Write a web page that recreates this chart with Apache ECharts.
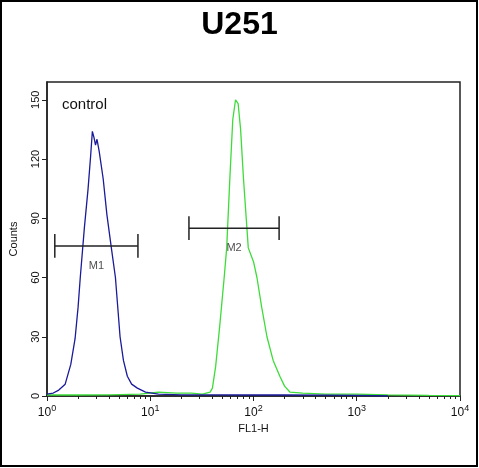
<!DOCTYPE html>
<html><head><meta charset="utf-8">
<script src="https://cdn.jsdelivr.net/npm/echarts@6/dist/echarts.min.js"></script>
<style>html,body{margin:0;padding:0;background:#fff}#c{width:479px;height:468px}</style>
</head><body><div id="c"></div>
<script>
// control histogram (blue)
let controlX = [1.0,1.15,1.3,1.5,1.7,1.87,2.0,2.1,2.3,2.5,2.65,2.75,2.85,2.95,3.05,3.2,3.5,3.8,4.2,4.6,5.1,5.5,6.0,6.6,7.5,9,12,20,40,80,200,500,1000,2000];
let controlY = [1,1.5,3,6,16,29,45,60,85,105,122,134,131,127,130,124,110,92,75,60,30,18,10,6,4,2,1,0.6,0.6,0.5,0.6,0.4,0.3,0];
// sample histogram (green)
let sampleX = [1,2,4,8,12,18,25,32,38,40,43,47,52,55,59,63,67,71,75,80,89,100,108,120,135,155,180,200,225,300,500,1000,2000,5000,10000];
let sampleY = [0.5,0.5,0.6,1,2,1.5,1.5,1,2,4,15,35,60,75,110,140,150,148,135,110,75,68,60,45,30,18,10,5,2,1.5,1,1,0.6,0.3,0.2];
let markers = [{name:'M1',x1:1.19,x2:7.6,y:76},{name:'M2',x1:23.7,x2:177,y:85}];

function pairs(xs,ys){ return xs.map((x,i)=>[x,ys[i]]); }
let chart = echarts.init(document.getElementById('c'));
let markerSeries = [];
markers.forEach(function(m){
    markerSeries.push({type:'line',data:[[m.x1,m.y],[m.x2,m.y]],symbol:'none',lineStyle:{color:'#222',width:1.5},z:5});
    markerSeries.push({type:'line',data:[[m.x1,m.y-6],[m.x1,m.y+6]],symbol:'none',lineStyle:{color:'#222',width:1.5},z:5});
    markerSeries.push({type:'line',data:[[m.x2,m.y-6],[m.x2,m.y+6]],symbol:'none',lineStyle:{color:'#222',width:1.5},z:5});
    markerSeries.push({type:'scatter',data:[[Math.sqrt(m.x1*m.x2),m.y-10]],symbolSize:0,
        label:{show:true,formatter:m.name,position:'inside',color:'#222',fontSize:11,fontFamily:'Liberation Sans'},z:6});
});
let option = {
    backgroundColor:'#fff',
    animation:false,
    title:{text:'U251',left:'center',top:4,textStyle:{fontSize:32,fontWeight:'bold',color:'#000',fontFamily:'Liberation Sans'}},
    grid:{left:47,right:19,top:82,bottom:72,show:true,borderColor:'#222',borderWidth:1.5},
    xAxis:{type:'log',min:1,max:10000,logBase:10,
        axisLine:{lineStyle:{color:'#222',width:1.5}},
        axisTick:{length:5,lineStyle:{color:'#222'}},
        minorTick:{show:true,splitNumber:9,length:3,lineStyle:{color:'#222'}},
        splitLine:{show:false},
        name:'FL1-H',nameLocation:'middle',nameGap:26,nameTextStyle:{fontSize:11,color:'#111',fontFamily:'Liberation Sans'},
        axisLabel:{color:'#111',fontFamily:'Liberation Sans',fontSize:12,formatter:function(v){
            return '10{s|'+Math.round(Math.log10(v))+'}';},rich:{s:{fontSize:9,verticalAlign:'top',padding:[0,0,8,0]}}}},
    yAxis:{type:'value',min:0,max:159,interval:30,
        axisLine:{show:true,lineStyle:{color:'#222',width:1.5}},
        axisTick:{length:5,lineStyle:{color:'#222'}},
        splitLine:{show:false},
        name:'Counts',nameLocation:'middle',nameGap:28,nameTextStyle:{fontSize:11,color:'#111',fontFamily:'Liberation Sans'},
        axisLabel:{rotate:90,color:'#111',fontSize:11,fontFamily:'Liberation Sans',margin:6}},
    graphic:[
        {type:'rect',shape:{x:1,y:1,width:476,height:465},style:{fill:'none',stroke:'#000',lineWidth:2}},
        {type:'text',left:62,top:97,style:{text:'control',fontSize:15,fill:'#111',fontFamily:'Liberation Sans'}}
    ],
    series:[
        {type:'line',data:pairs(sampleX,sampleY),symbol:'none',lineStyle:{color:'#3ddc3a',width:1.3},z:3},
        {type:'line',data:pairs(controlX,controlY),symbol:'none',lineStyle:{color:'#1a1a9a',width:1.3},z:4}
    ].concat(markerSeries)
};
chart.setOption(option);
</script></body></html>
